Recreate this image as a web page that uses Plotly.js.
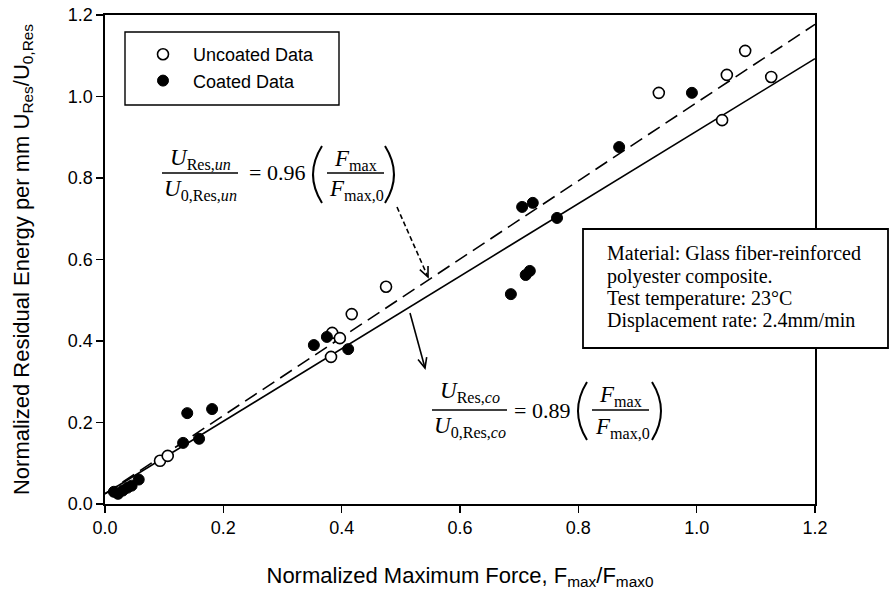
<!DOCTYPE html>
<html>
<head>
<meta charset="utf-8">
<script src="https://cdn.plot.ly/plotly-3.0.1.min.js"></script>
<style>
  html, body { margin: 0; padding: 0; background: #fff; }
  #chart { width: 890px; height: 594px; }
</style>
</head>
<body>
<div id="chart"></div>
<script>
// Normalized maximum force vs. normalized residual energy per mm
const uncoatedX = [0.093, 0.106, 0.382, 0.384, 0.397, 0.417, 0.475, 0.936, 1.043, 1.051, 1.082, 1.126];
const uncoatedY = [0.106, 0.118, 0.361, 0.420, 0.407, 0.466, 0.533, 1.009, 0.942, 1.053, 1.112, 1.048];

const coatedX = [0.015, 0.022, 0.030, 0.038, 0.045, 0.057, 0.132, 0.139, 0.159, 0.181, 0.353, 0.375, 0.411,
                 0.686, 0.705, 0.711, 0.718, 0.723, 0.764, 0.869, 0.992];
const coatedY = [0.030, 0.025, 0.033, 0.040, 0.045, 0.060, 0.150, 0.223, 0.160, 0.233, 0.390, 0.410, 0.380,
                 0.515, 0.729, 0.562, 0.572, 0.739, 0.702, 0.876, 1.009];

// Linear fits (slope from the fitted equations)
const fitX = [0, 1.2];
const slopeUncoated = 0.96;
const slopeCoated = 0.89;
const fitOffset = 0.025;

const tickVals = [0, 0.2, 0.4, 0.6, 0.8, 1.0, 1.2];
const tickText = ['0.0', '0.2', '0.4', '0.6', '0.8', '1.0', '1.2'];

const legendNames = ['Uncoated Data', 'Coated Data'];

const infoLines = [
  'Material: Glass fiber-reinforced',
  'polyester composite.',
  'Test temperature: 23°C',
  'Displacement rate: 2.4mm/min'
];

// ---- layout geometry (pixels) ----
const W = 890, H = 594;
const M = { l: 105, r: 75, t: 15, b: 90 };
const plotW = W - M.l - M.r, plotH = H - M.t - M.b;
const px = x => (x - M.l) / plotW;        // pixel -> paper x
const py = y => (H - M.b - y) / plotH;    // pixel -> paper y

const SANS = 'Arial, "Liberation Sans", sans-serif';
const SERIF = '"Liberation Serif", "Times New Roman", serif';
const PAD = '\u00a0\u00a0';   // extra gap between legend symbol and label

const traces = [
  {
    x: fitX, y: fitX.map(v => slopeUncoated * v + fitOffset),
    mode: 'lines', line: { color: '#000', width: 1.6, dash: '14px,7px' },
    showlegend: false, hoverinfo: 'skip'
  },
  {
    x: fitX, y: fitX.map(v => slopeCoated * v + fitOffset),
    mode: 'lines', line: { color: '#000', width: 1.6 },
    showlegend: false, hoverinfo: 'skip'
  },
  {
    x: uncoatedX, y: uncoatedY, name: PAD + legendNames[0], mode: 'markers',
    marker: { size: 11, color: '#fff', line: { color: '#000', width: 1.6 } }
  },
  {
    x: coatedX, y: coatedY, name: PAD + legendNames[1], mode: 'markers',
    marker: { size: 11, color: '#000', line: { color: '#000', width: 1 } }
  }
];

// ---- equation helpers ----
const annotations = [];
const shapes = [];

function txt(x, y, text, size, opts) {
  annotations.push(Object.assign({
    xref: 'paper', yref: 'paper', x: px(x), y: py(y), text: text, showarrow: false,
    xanchor: 'center', yanchor: 'middle',
    font: { family: SERIF, size: size, color: '#000' }
  }, opts || {}));
}
function hline(x0, x1, y) {
  shapes.push({ type: 'line', xref: 'paper', yref: 'paper',
    x0: px(x0), x1: px(x1), y0: py(y), y1: py(y), line: { color: '#000', width: 1.3 } });
}
function paren(xEnd, xCtrl, yTop, yBot) {
  const ym = (yTop + yBot) / 2;
  shapes.push({ type: 'path', xref: 'paper', yref: 'paper',
    path: `M ${px(xEnd)},${py(yTop)} Q ${px(xCtrl)},${py(ym)} ${px(xEnd)},${py(yBot)}`,
    line: { color: '#000', width: 2 } });
}
function arrow(x0, y0, x1, y1, dash) {
  shapes.push({ type: 'line', xref: 'paper', yref: 'paper',
    x0: px(x0), y0: py(y0), x1: px(x1), y1: py(y1),
    line: { color: '#000', width: 1.6, dash: dash || 'solid' } });
  const dx = x1 - x0, dy = y1 - y0, len = Math.hypot(dx, dy);
  const ux = dx / len, uy = dy / len, L = 11, a = 0.42;
  const c = Math.cos(a), s = Math.sin(a);
  const lx = x1 - L * (ux * c - uy * s), ly = y1 - L * (uy * c + ux * s);
  const rx = x1 - L * (ux * c + uy * s), ry = y1 - L * (uy * c - ux * s);
  shapes.push({ type: 'path', xref: 'paper', yref: 'paper',
    path: `M ${px(lx)},${py(ly)} L ${px(x1)},${py(y1)} L ${px(rx)},${py(ry)}`,
    line: { color: '#000', width: 1.6 } });
}

// Equation for uncoated specimens
const EQ = 22;
txt(200, 159, '<i>U</i><sub>Res,<i>un</i></sub>', EQ + 1);
hline(162, 238, 173);
txt(200, 190, '<i>U</i><sub>0,Res,<i>un</i></sub>', EQ + 1);
txt(277, 173, '= 0.' + '96', EQ);
paren(322, 304, 146, 203);
txt(355, 160, '<i>F</i><sub>max</sub>', EQ + 1);
hline(327, 384, 173);
txt(356, 190, '<i>F</i><sub>max,0</sub>', EQ + 1);
paren(385, 403, 146, 203);
arrow(397, 207, 428, 277, '5px,3px');

// Equation for coated specimens
txt(470, 392, '<i>U</i><sub>Res,<i>co</i></sub>', EQ + 1);
hline(432, 507, 410);
txt(470, 427, '<i>U</i><sub>0,Res,<i>co</i></sub>', EQ + 1);
txt(542, 410, '= 0.' + '89', EQ);
paren(587, 569, 382, 440);
txt(620, 396, '<i>F</i><sub>max</sub>', EQ + 1);
hline(592, 649, 410);
txt(622, 428, '<i>F</i><sub>max,0</sub>', EQ + 1);
paren(652, 670, 382, 440);
arrow(410, 313, 425, 368);

// Legend frame
shapes.push({ type: 'rect', xref: 'paper', yref: 'paper',
  x0: px(125), x1: px(339), y0: py(32), y1: py(105),
  line: { color: '#000', width: 1.4 }, fillcolor: 'rgba(0,0,0,0)', layer: 'above' });

// Test-condition box
shapes.push({ type: 'rect', xref: 'paper', yref: 'paper',
  x0: px(583), x1: px(888), y0: py(229), y1: py(348),
  line: { color: '#000', width: 1.8 }, fillcolor: '#fff', layer: 'above' });
const infoY = [253, 276, 298, 321];
infoLines.forEach((t, i) => txt(605, infoY[i], t, 20, { xanchor: 'left' }));

const axisCommon = {
  range: [0, 1.2], tickvals: tickVals, ticktext: tickText,
  ticks: 'outside', ticklen: 7, tickwidth: 1.4, tickcolor: '#000',
  showline: true, linecolor: '#000', linewidth: 1.6, mirror: true,
  showgrid: false, zeroline: false,
  tickfont: { family: SANS, size: 18, color: '#000' }
};

const layout = {
  width: W, height: H, margin: M,
  paper_bgcolor: '#fff', plot_bgcolor: '#fff',
  showlegend: true,
  legend: {
    x: px(143), y: py(36), xanchor: 'left', yanchor: 'top',
    bgcolor: 'rgba(0,0,0,0)', borderwidth: 0,
    font: { family: SANS, size: 18, color: '#000' }
  },
  xaxis: Object.assign({}, axisCommon, {
    title: { text: 'Normalized Maximum Force, F<sub>max</sub>/F<sub>max0</sub>',
      font: { family: SANS, size: 22, color: '#000' }, standoff: 30 }
  }),
  yaxis: Object.assign({}, axisCommon, {
    title: { text: 'Normalized Residual Energy per mm U<sub>Res</sub>/U<sub>0,Res</sub>',
      font: { family: SANS, size: 22, color: '#000' }, standoff: 32 }
  }),
  annotations: annotations,
  shapes: shapes
};

Plotly.newPlot('chart', traces, layout, { displayModeBar: false, staticPlot: true });
</script>
</body>
</html>
